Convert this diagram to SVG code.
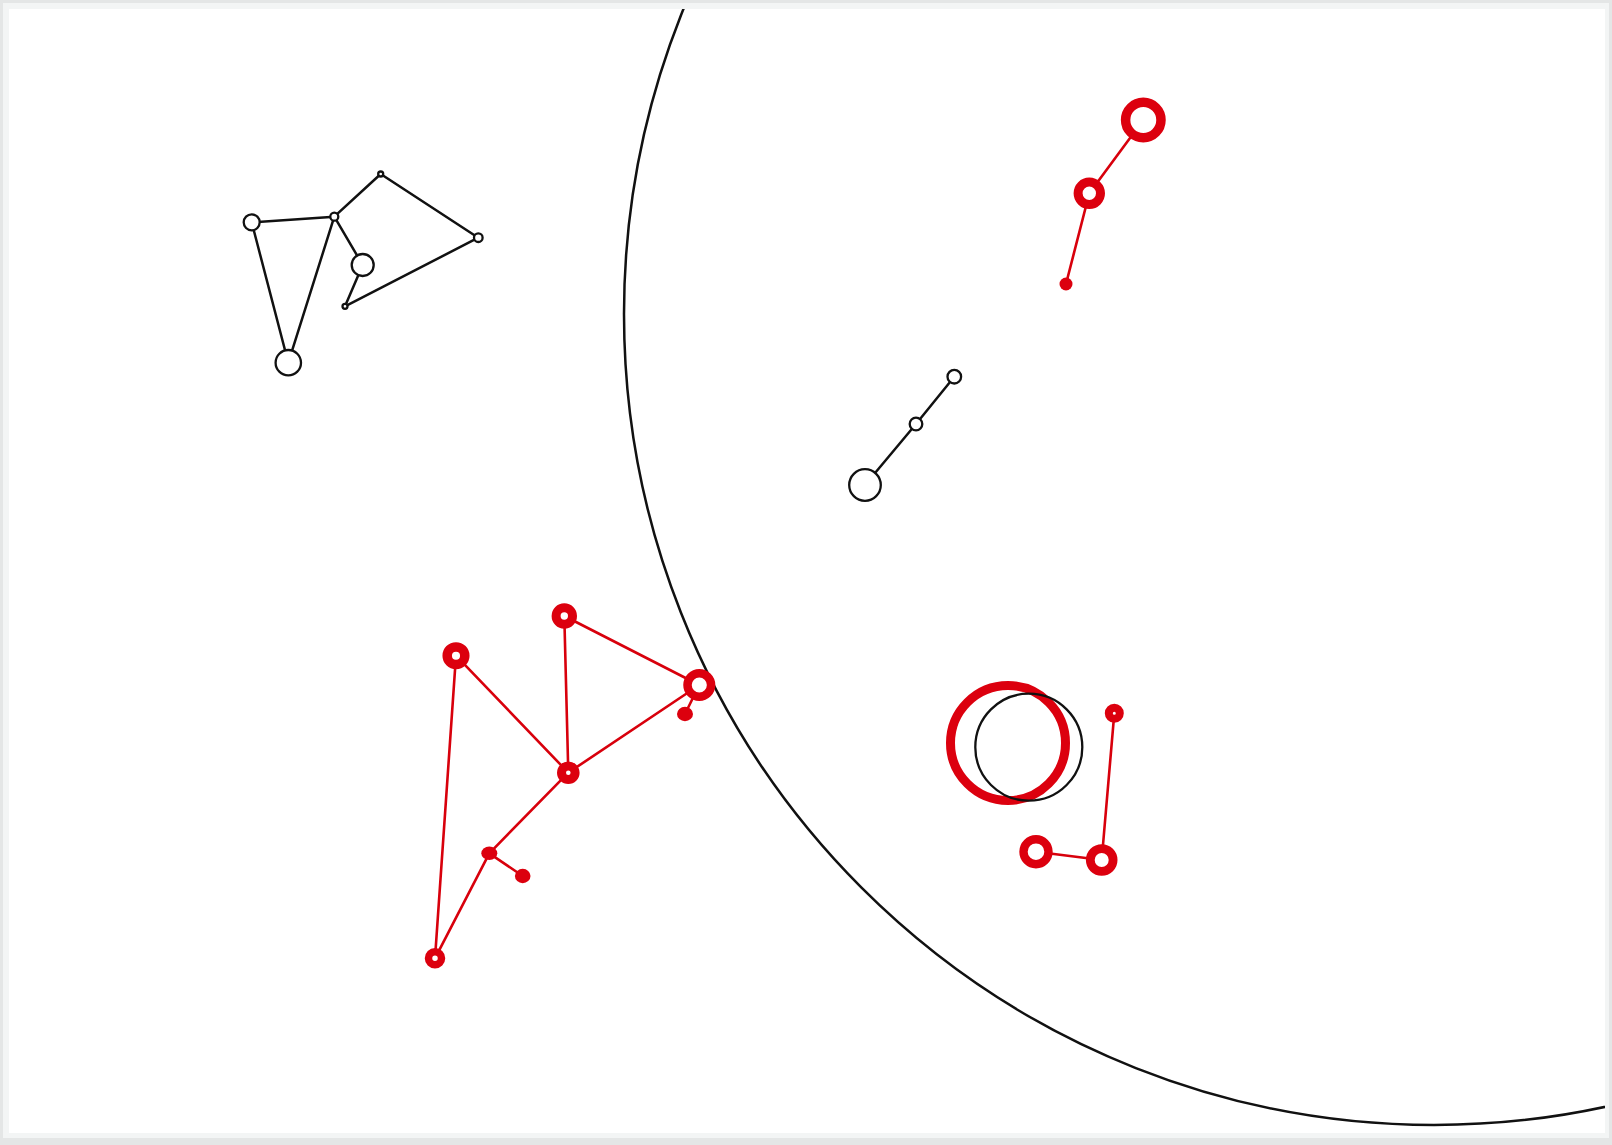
<svg xmlns="http://www.w3.org/2000/svg" width="1612" height="1145" viewBox="0 0 1612 1145">
  <style>
    .bk { fill: #fff; stroke: #111; stroke-width: 2.3; }
    .rr { fill: #fff; stroke: #dc000e; }
    .rd { fill: #dc000e; }
    .eb { stroke: #111; stroke-width: 2.5; fill: none; stroke-linecap: round; }
    .er { stroke: #d8000c; stroke-width: 2.6; fill: none; stroke-linecap: round; }
  </style>
  <defs>
    <clipPath id="paper"><rect x="9" y="9" width="1596" height="1124"/></clipPath>
  </defs>
  <rect x="0" y="0" width="1612" height="1145" fill="#e4e6e6"/>
  <rect x="3" y="3" width="1606" height="1135" fill="#f3f5f5"/>
  <rect x="9" y="9" width="1596" height="1124" fill="#ffffff"/>

  <g id="boundary" clip-path="url(#paper)">
    <ellipse cx="1434" cy="314" rx="810" ry="811" fill="none" stroke="#111" stroke-width="2.5"/>
  </g>

  <g id="connectors">
    <line class="eb" x1="251.7" y1="222.3" x2="334.3" y2="216.7"/>
    <line class="eb" x1="251.7" y1="222.3" x2="288.3" y2="362.7"/>
    <line class="eb" x1="334.3" y1="216.7" x2="288.3" y2="362.7"/>
    <line class="eb" x1="334.3" y1="216.7" x2="380.7" y2="174"/>
    <line class="eb" x1="334.3" y1="216.7" x2="362.7" y2="265"/>
    <line class="eb" x1="380.7" y1="174" x2="478.3" y2="237.7"/>
    <line class="eb" x1="478.3" y1="237.7" x2="345" y2="306.3"/>
    <line class="eb" x1="362.7" y1="265" x2="345" y2="306.3"/>
    <line class="eb" x1="865" y1="485" x2="916" y2="424"/>
    <line class="eb" x1="916" y1="424" x2="954.3" y2="376.7"/>
    <line class="er" x1="1143.3" y1="120" x2="1089.3" y2="193.3"/>
    <line class="er" x1="1089.3" y1="193.3" x2="1066" y2="284"/>
    <line class="er" x1="456" y1="655.7" x2="568.3" y2="772.7"/>
    <line class="er" x1="456" y1="655.7" x2="435" y2="958.3"/>
    <line class="er" x1="564.3" y1="616" x2="568.3" y2="772.7"/>
    <line class="er" x1="564.3" y1="616" x2="699.3" y2="685"/>
    <line class="er" x1="699.3" y1="685" x2="568.3" y2="772.7"/>
    <line class="er" x1="699.3" y1="685" x2="685" y2="714"/>
    <line class="er" x1="568.3" y1="772.7" x2="489.3" y2="853.3"/>
    <line class="er" x1="489.3" y1="853.3" x2="522.7" y2="876"/>
    <line class="er" x1="489.3" y1="853.3" x2="435" y2="958.3"/>
    <line class="er" x1="1036" y1="851.7" x2="1101.7" y2="860"/>
    <line class="er" x1="1101.7" y1="860" x2="1114.3" y2="713.3"/>
  </g>

  <g id="nA"><circle class="bk" cx="251.7" cy="222.3" r="8"/></g>
  <g id="nB"><circle class="bk" cx="334.3" cy="216.7" r="4"/></g>
  <g id="nC"><circle class="bk" cx="380.7" cy="174" r="2.5" stroke-width="1.8"/></g>
  <g id="nD"><circle class="bk" cx="478.3" cy="237.7" r="4.3"/></g>
  <g id="nE"><circle class="bk" cx="362.7" cy="265" r="11"/></g>
  <g id="nF"><circle class="bk" cx="345" cy="306.3" r="2.5" stroke-width="1.8"/></g>
  <g id="nG"><circle class="bk" cx="288.3" cy="362.7" r="12.7"/></g>

  <g id="nH"><circle class="bk" cx="954.3" cy="376.7" r="6.8"/></g>
  <g id="nI"><circle class="bk" cx="916" cy="424" r="6.3"/></g>
  <g id="nJ"><circle class="bk" cx="865" cy="485" r="15.8"/></g>

  <g id="r1"><circle class="rr" cx="1143.3" cy="120" r="17.7" stroke-width="9.5"/></g>
  <g id="r2"><circle class="rr" cx="1089.3" cy="193.3" r="11.2" stroke-width="9"/></g>
  <g id="r3"><circle class="rd" cx="1066" cy="284" r="6.5"/></g>

  <g id="rA"><circle class="rr" cx="456" cy="655.7" r="8.8" stroke-width="9.5"/></g>
  <g id="rB"><circle class="rr" cx="564.3" cy="616" r="8.2" stroke-width="9"/></g>
  <g id="rC"><circle class="rr" cx="699.3" cy="685" r="11.8" stroke-width="8.5"/></g>
  <g id="rCd"><ellipse class="rd" cx="685" cy="714" rx="8" ry="7.2"/></g>
  <g id="rD"><circle class="rr" cx="568.3" cy="772.7" r="6.8" stroke-width="9"/></g>
  <g id="rE"><ellipse class="rd" cx="489.3" cy="853.3" rx="8" ry="6.8"/></g>
  <g id="rF"><ellipse class="rd" cx="522.7" cy="876" rx="7.8" ry="7.2"/></g>
  <g id="rG"><circle class="rr" cx="435" cy="958.3" r="6.5" stroke-width="7.5"/></g>

  <g id="bigRed"><circle cx="1008" cy="743" r="57.5" fill="none" stroke="#dc000e" stroke-width="9"/></g>
  <g id="bigBlack"><circle cx="1028.8" cy="747.2" r="53.5" fill="none" stroke="#111" stroke-width="2.3"/></g>

  <g id="rP"><circle class="rr" cx="1114.3" cy="713.3" r="5.5" stroke-width="8"/></g>
  <g id="rQ"><circle class="rr" cx="1036" cy="851.7" r="12.5" stroke-width="8.4"/></g>
  <g id="rR"><circle class="rr" cx="1101.7" cy="860" r="11.4" stroke-width="8.8"/></g>
</svg>
